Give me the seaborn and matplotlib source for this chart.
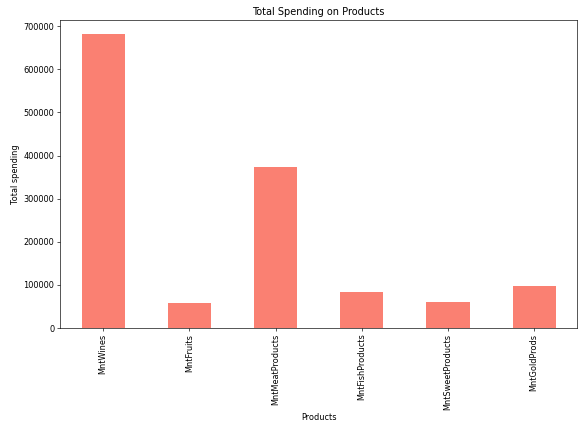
import matplotlib
matplotlib.use("Agg")
import matplotlib.pyplot as plt
import seaborn as sns
import pandas as pd

products = ["MntWines", "MntFruits", "MntMeatProducts", "MntFishProducts", "MntSweetProducts", "MntGoldProds"]
totals = [680816, 58917, 373968, 84057, 60621, 98609]
df = pd.DataFrame({"Products": products, "Total spending": totals})

fig = plt.figure(figsize=(10, 7.526), dpi=58.2)
ax = fig.add_axes([0.103, 0.251, 0.889, 0.704])
sns.barplot(data=df, x="Products", y="Total spending", color="salmon", saturation=1, width=0.5, ax=ax)
ax.set_title("Total Spending on Products")
ax.tick_params(axis="x", rotation=90)
fig.savefig("out.png", dpi=58.2)
